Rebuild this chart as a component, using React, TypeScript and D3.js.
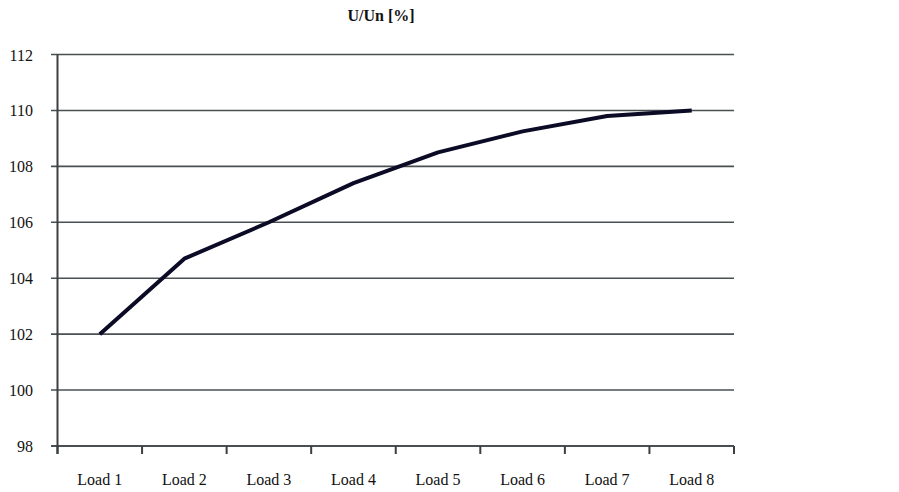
import React from "react";
import * as d3 from "d3";

const categories = ["Load 1", "Load 2", "Load 3", "Load 4", "Load 5", "Load 6", "Load 7", "Load 8"];
const values = [102.0, 104.7, 106.0, 107.4, 108.5, 109.25, 109.8, 110.0];
const yTicks = [98, 100, 102, 104, 106, 108, 110, 112];
const title = "U/Un [%]";

export default function App() {
  const W = 899, H = 492;
  const left = 57.5, right = 734, top = 54.5, bottom = 446;
  const x = d3.scaleBand<string>().domain(categories).range([left, right]);
  const y = d3.scaleLinear().domain([98, 112]).range([bottom, top]);
  const line = d3
    .line<number>()
    .x((_, i) => (x(categories[i]) as number) + x.bandwidth() / 2)
    .y((d) => y(d));
  const font = "'Liberation Serif', 'Times New Roman', serif";
  const tickXs = [...categories.map((c) => x(c) as number), right];
  return (
    <svg width={W} height={H} style={{ position: "absolute", left: 0, top: 0, background: "#fff" }}>
      <text x={381} y={21} textAnchor="middle" fontFamily={font} fontWeight="bold" fontSize={16} fill="#111">
        {title}
      </text>
      {yTicks.map((t) => (
        <g key={t}>
          <line x1={51} x2={right} y1={y(t)} y2={y(t)} stroke="#4a4f52" strokeWidth={t === 98 ? 2 : 1.6} />
          <text x={33} y={y(t) + 6} textAnchor="end" fontFamily={font} fontSize={16} fill="#111">
            {t}
          </text>
        </g>
      ))}
      <line x1={left} x2={left} y1={top} y2={454} stroke="#3a3f42" strokeWidth={2} />
      {tickXs.map((tx, i) => (
        <line key={i} x1={tx} x2={tx} y1={bottom} y2={454} stroke="#3a3f42" strokeWidth={2} />
      ))}
      {categories.map((c) => (
        <text
          key={c}
          x={(x(c) as number) + x.bandwidth() / 2}
          y={485}
          textAnchor="middle"
          fontFamily={font}
          fontSize={16}
          fill="#111"
        >
          {c}
        </text>
      ))}
      <path d={line(values) || ""} fill="none" stroke="#0b0b26" strokeWidth={4} strokeLinejoin="round" />
    </svg>
  );
}
